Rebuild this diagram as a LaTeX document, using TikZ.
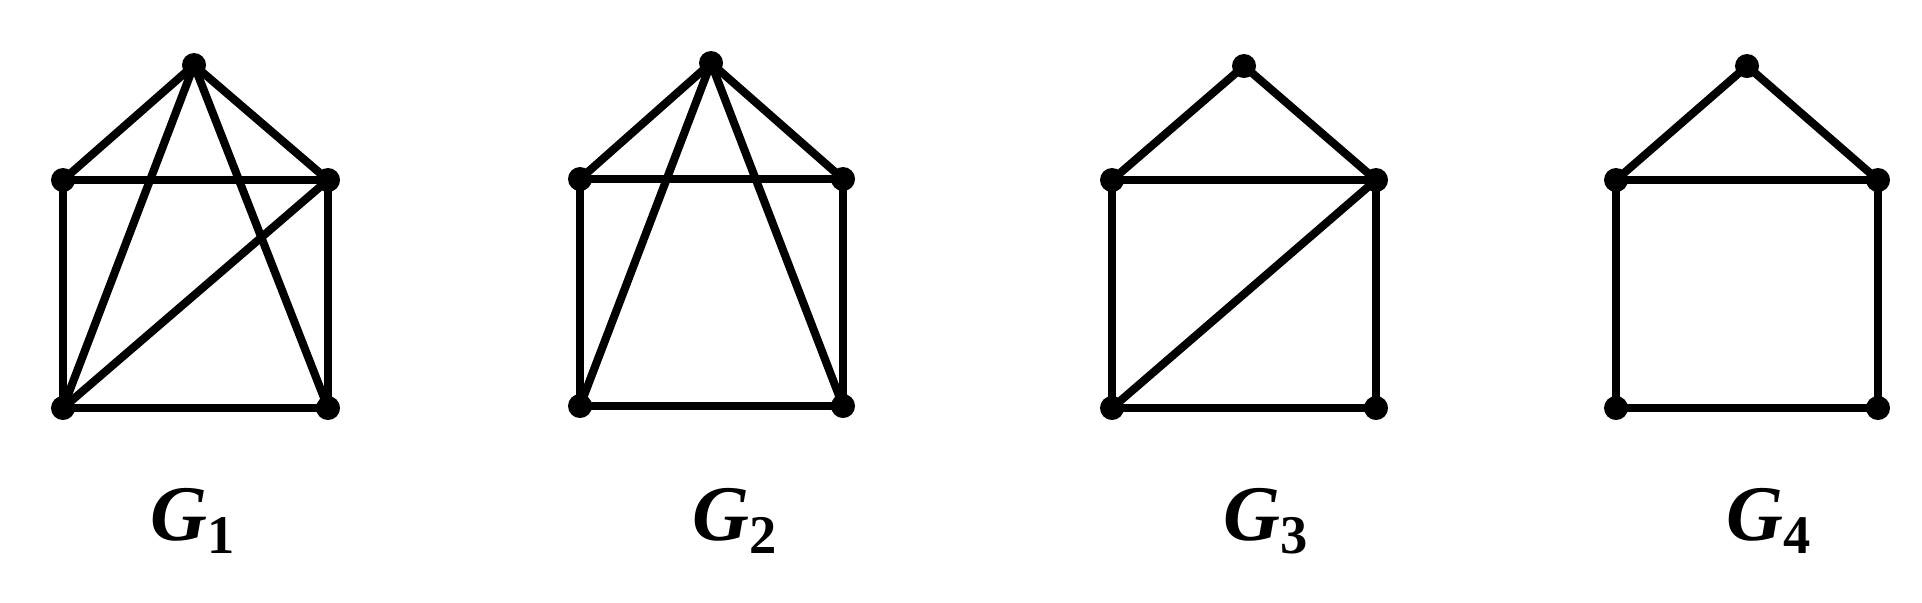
\documentclass[tikz,border=0pt]{standalone}
\usepackage{fontspec}
\setmainfont{Liberation Serif}
\usepackage{tikz}
\usetikzlibrary{positioning}

\newcommand{\glabel}[1]{{\itshape G}\raisebox{-3.7pt}{\fontsize{15.5}{18}\selectfont #1}}

\begin{document}
\begin{tikzpicture}[
    x=0.01cm, y=-0.01cm,
    vertex/.style={circle, fill=black, inner sep=0pt, minimum size=0.24cm},
    edge/.style={line width=2.3pt, black},
    glab/.style={anchor=base west, inner sep=0pt, font=\fontsize{22.4}{26}\selectfont\bfseries},
]
\useasboundingbox (0,0) rectangle (1922,602);

% === G1 ===
\node[vertex] (t1) at (194,65) {};
\node[vertex] (l1) at (63,180) {};
\node[vertex] (r1) at (328,180) {};
\node[vertex] (bl1) at (63,408) {};
\node[vertex] (br1) at (328,408) {};
\draw[edge] (l1.center) -- (t1.center) -- (r1.center);
\draw[edge] (l1.center) -- (r1.center);
\draw[edge] (l1.center) -- (bl1.center) -- (br1.center) -- (r1.center);
\draw[edge] (t1.center) -- (bl1.center);
\draw[edge] (t1.center) -- (br1.center);
\draw[edge] (bl1.center) -- (r1.center);
\node[glab] (g1) at (150,540) {\glabel{1}};

% === G2 ===
\node[vertex] (t2) at (711,63) {};
\node[vertex] (l2) at (580,179) {};
\node[vertex] (r2) at (843,179) {};
\node[vertex] (bl2) at (580,406) {};
\node[vertex] (br2) at (843,406) {};
\draw[edge] (l2.center) -- (t2.center) -- (r2.center);
\draw[edge] (l2.center) -- (r2.center);
\draw[edge] (l2.center) -- (bl2.center) -- (br2.center) -- (r2.center);
\draw[edge] (t2.center) -- (bl2.center);
\draw[edge] (t2.center) -- (br2.center);
\node[glab] (g2) at (692,540) {\glabel{2}};

% === G3 ===
\node[vertex] (t3) at (1244,66) {};
\node[vertex] (l3) at (1112,180) {};
\node[vertex] (r3) at (1376,180) {};
\node[vertex] (bl3) at (1112,408) {};
\node[vertex] (br3) at (1376,408) {};
\draw[edge] (l3.center) -- (t3.center) -- (r3.center);
\draw[edge] (l3.center) -- (r3.center);
\draw[edge] (l3.center) -- (bl3.center) -- (br3.center) -- (r3.center);
\draw[edge] (bl3.center) -- (r3.center);
\node[glab] (g3) at (1223,540) {\glabel{3}};

% === G4 ===
\node[vertex] (t4) at (1747,66) {};
\node[vertex] (l4) at (1616,180) {};
\node[vertex] (r4) at (1878,180) {};
\node[vertex] (bl4) at (1616,408) {};
\node[vertex] (br4) at (1878,408) {};
\draw[edge] (l4.center) -- (t4.center) -- (r4.center);
\draw[edge] (l4.center) -- (r4.center);
\draw[edge] (l4.center) -- (bl4.center) -- (br4.center) -- (r4.center);
\node[glab] (g4) at (1726,540) {\glabel{4}};

\end{tikzpicture}
\end{document}
